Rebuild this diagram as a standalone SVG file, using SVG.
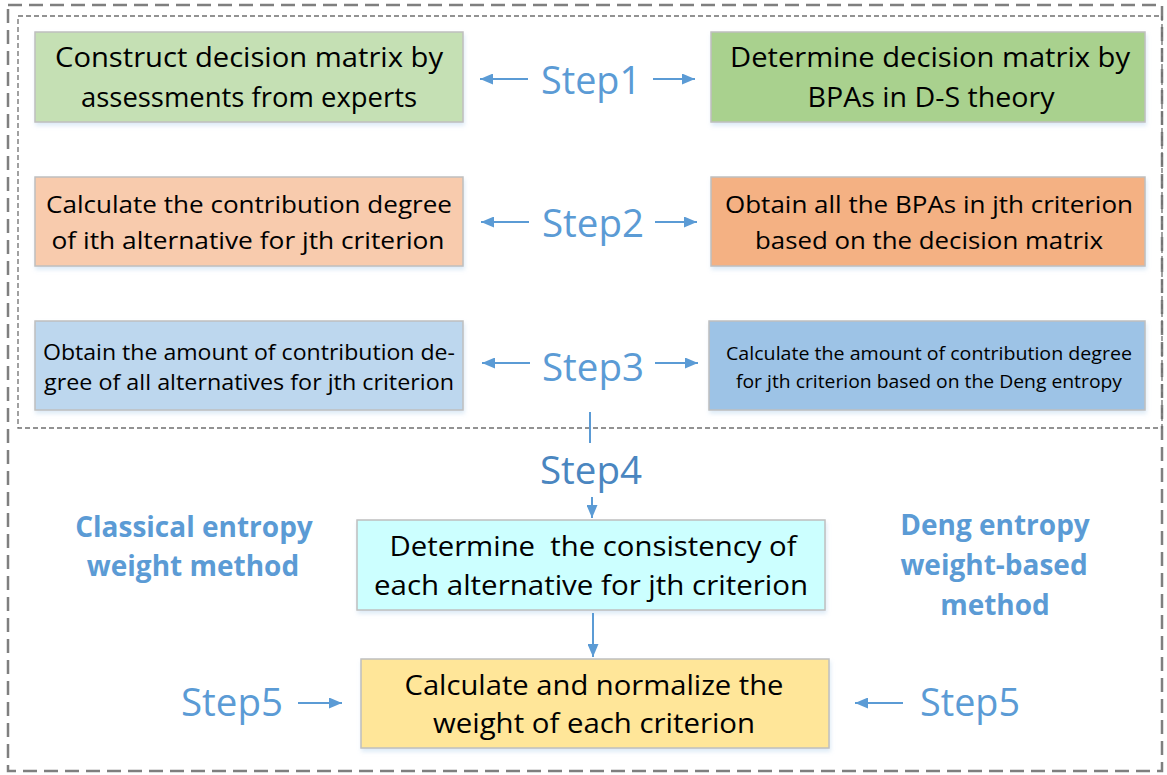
<svg xmlns="http://www.w3.org/2000/svg" width="1167" height="775" viewBox="0 0 1167 775">
<style>
.box{stroke:#bfbfbf;stroke-width:1.5;filter:url(#sh)}
.t{font-family:"Open Sans","Noto Sans",sans-serif;fill:#000;text-anchor:middle}
.step{font-family:"Open Sans","Noto Sans",sans-serif;fill:#5b9bd5;font-size:39px;text-anchor:middle}
.lbl{font-family:"Open Sans","Noto Sans",sans-serif;fill:#5b9bd5;font-size:28px;font-weight:bold;text-anchor:middle}
.ar{stroke:#5b9bd5;stroke-width:2;fill:none;marker-end:url(#ah)}
</style>
<defs>
<marker id="ah" markerWidth="13" markerHeight="11" refX="13" refY="5.5" orient="auto" markerUnits="userSpaceOnUse">
<path d="M0,0 L13,5.5 L0,11 Z" fill="#5b9bd5"/>
</marker>
<filter id="sh" x="-5%" y="-10%" width="110%" height="130%">
<feDropShadow dx="1" dy="3" stdDeviation="2" flood-color="#9dc3e6" flood-opacity="0.35"/>
</filter>
</defs>
<rect width="1167" height="775" fill="#fff"/>
<rect x="8" y="5" width="1154" height="766" fill="none" stroke="#7f7f7f" stroke-width="2.5" stroke-dasharray="14 7"/>
<rect x="18" y="16" width="1144" height="412" fill="none" stroke="#6f6f6f" stroke-width="1.3" stroke-dasharray="5 3"/>

<g id="n1"><rect class="box" x="35" y="32" width="428" height="90" fill="#c5e0b4"/>
<text class="t" font-size="27" x="249" y="67" textLength="388" lengthAdjust="spacingAndGlyphs">Construct decision matrix by</text>
<text class="t" font-size="27" x="249" y="107" textLength="336" lengthAdjust="spacingAndGlyphs">assessments from experts</text></g>
<g id="n2"><rect class="box" x="711" y="32" width="434" height="90" fill="#a9d18e"/>
<text class="t" font-size="27" x="930" y="67" textLength="400" lengthAdjust="spacingAndGlyphs">Determine decision matrix by</text>
<text class="t" font-size="27" x="931" y="107" textLength="247" lengthAdjust="spacingAndGlyphs">BPAs in D-S theory</text></g>
<g id="n3"><rect class="box" x="35" y="177" width="428" height="89" fill="#f8cbad"/>
<text class="t" font-size="24" x="249" y="213" textLength="406" lengthAdjust="spacingAndGlyphs">Calculate the contribution degree</text>
<text class="t" font-size="24" x="248" y="249" textLength="393" lengthAdjust="spacingAndGlyphs">of ith alternative for jth criterion</text></g>
<g id="n4"><rect class="box" x="711" y="177" width="434" height="89" fill="#f4b183"/>
<text class="t" font-size="24" x="929" y="213" textLength="408" lengthAdjust="spacingAndGlyphs">Obtain all the BPAs in jth criterion</text>
<text class="t" font-size="24" x="929" y="249" textLength="348" lengthAdjust="spacingAndGlyphs">based on the decision matrix</text></g>
<g id="n5"><rect class="box" x="35" y="321" width="428" height="89" fill="#bdd7ee"/>
<text class="t" font-size="22" x="249" y="360" textLength="412" lengthAdjust="spacingAndGlyphs">Obtain the amount of contribution de-</text>
<text class="t" font-size="22" x="249" y="390" textLength="410" lengthAdjust="spacingAndGlyphs">gree of all alternatives for jth criterion</text></g>
<g id="n6"><rect class="box" x="709" y="321" width="436" height="89" fill="#9dc3e6"/>
<text class="t" font-size="19" x="929" y="360" textLength="406" lengthAdjust="spacingAndGlyphs">Calculate the amount of contribution degree</text>
<text class="t" font-size="19" x="929" y="388" textLength="386" lengthAdjust="spacingAndGlyphs">for jth criterion based on the Deng entropy</text></g>
<g id="n7"><rect class="box" x="357" y="520" width="468" height="90" fill="#ccffff"/>
<text class="t" font-size="27" x="593" y="556" textLength="407" lengthAdjust="spacingAndGlyphs" xml:space="preserve">Determine  the consistency of</text>
<text class="t" font-size="27" x="591" y="595" textLength="434" lengthAdjust="spacingAndGlyphs">each alternative for jth criterion</text></g>
<g id="n8"><rect class="box" x="361" y="659" width="468" height="89" fill="#ffe699"/>
<text class="t" font-size="27" x="594" y="695" textLength="379" lengthAdjust="spacingAndGlyphs">Calculate and normalize the</text>
<text class="t" font-size="27" x="594" y="733" textLength="322" lengthAdjust="spacingAndGlyphs">weight of each criterion</text></g>

<g id="labels">
<text class="step" x="591" y="94" textLength="100" lengthAdjust="spacingAndGlyphs">Step1</text>
<text class="step" x="593" y="237" textLength="102" lengthAdjust="spacingAndGlyphs">Step2</text>
<text class="step" x="593" y="381" textLength="102" lengthAdjust="spacingAndGlyphs">Step3</text>
<text class="step" x="591" y="484" style="fill:#4a86c0" textLength="102" lengthAdjust="spacingAndGlyphs">Step4</text>
<text class="step" x="232" y="716" textLength="102" lengthAdjust="spacingAndGlyphs">Step5</text>
<text class="step" x="970" y="716" textLength="100" lengthAdjust="spacingAndGlyphs">Step5</text>
<text class="lbl" x="194" y="537">Classical entropy</text>
<text class="lbl" x="193" y="576">weight method</text>
<text class="lbl" x="995" y="535">Deng entropy</text>
<text class="lbl" x="994" y="575">weight-based</text>
<text class="lbl" x="995" y="615">method</text>
</g>

<g id="connectors">
<line class="ar" x1="528" y1="79" x2="480" y2="79"/>
<line class="ar" x1="653" y1="79" x2="695" y2="79"/>
<line class="ar" x1="529" y1="222" x2="481" y2="222"/>
<line class="ar" x1="655" y1="222" x2="697" y2="222"/>
<line class="ar" x1="530" y1="363" x2="482" y2="363"/>
<line class="ar" x1="655" y1="363" x2="698" y2="363"/>
<line x1="590" y1="412" x2="590" y2="443" stroke="#5b9bd5" stroke-width="2"/>
<line class="ar" x1="592" y1="497" x2="592" y2="518"/>
<line class="ar" x1="593" y1="613" x2="593" y2="657"/>
<line class="ar" x1="298" y1="703" x2="342" y2="703"/>
<line class="ar" x1="903" y1="703" x2="855" y2="703"/>
</g>
</svg>
